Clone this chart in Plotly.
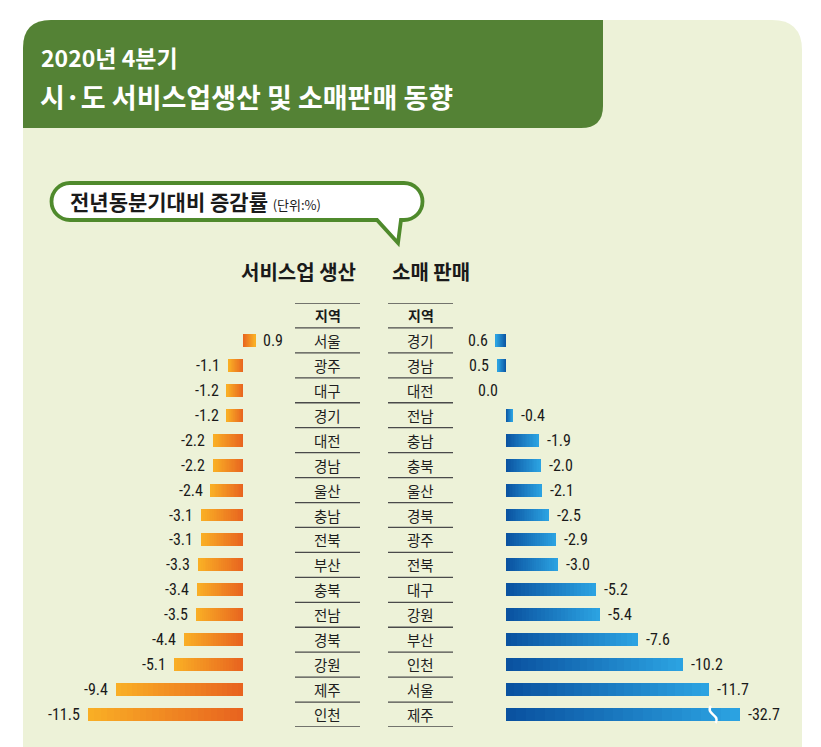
import plotly.graph_objects as go

OFF = 8                      # page body margin of the browser
W, H = 821 - OFF, 747 - OFF  # figure size

# ---------------- data ----------------
left_regions = ["서울", "광주", "대구", "경기", "대전", "경남", "울산", "충남",
                "전북", "부산", "충북", "전남", "경북", "강원", "제주", "인천"]
service = [0.9, -1.1, -1.2, -1.2, -2.2, -2.2, -2.4, -3.1,
           -3.1, -3.3, -3.4, -3.5, -4.4, -5.1, -9.4, -11.5]

right_regions = ["경기", "경남", "대전", "전남", "충남", "충북", "울산", "경북",
                 "광주", "전북", "대구", "강원", "부산", "인천", "서울", "제주"]
retail = [0.6, 0.5, 0.0, -0.4, -1.9, -2.0, -2.1, -2.5,
          -2.9, -3.0, -5.2, -5.4, -7.6, -10.2, -11.7, -32.7]

title_line1 = "2020년 4분기"
title_line2 = "시·도 서비스업생산 및 소매판매 동향"
bubble_text = "전년동분기대비 증감률"
unit_text = "(단위:%)"
header_left = "서비스업 생산"
header_right = "소매 판매"
region_header = "지역"

# ---------------- helpers (page pixels -> paper) ----------------
def px(x):
    return (x - OFF) / W


def py(y):
    return 1 - (y - OFF) / H


def hex2rgb(h):
    h = h.lstrip("#")
    return tuple(int(h[i:i + 2], 16) for i in (0, 2, 4))


def lerp(c1, c2, t):
    a, b = hex2rgb(c1), hex2rgb(c2)
    return "rgb(%d,%d,%d)" % tuple(round(a[i] + (b[i] - a[i]) * t) for i in range(3))


def path(cmds):
    out = []
    for cmd in cmds:
        if isinstance(cmd, str):
            out.append(cmd)
        else:
            out.append("%.5f,%.5f" % (px(cmd[0]), py(cmd[1])))
    return " ".join(out)


KR = "Noto Sans CJK KR"
NUM = "Liberation Sans Narrow, Roboto Condensed, Roboto, sans-serif"

# axis geometry (page pixels)
L_ZERO, L_SCALE = 243, 13.5
L_DOM = (60, 285)
left_range = [(L_DOM[0] - L_ZERO) / L_SCALE, (L_DOM[1] - L_ZERO) / L_SCALE]
R_ZERO, R_SCALE = 506, 17.35
R_DOM = (460, 740)
right_range = [(R_ZERO - R_DOM[0]) / R_SCALE, -(R_DOM[1] - R_ZERO) / R_SCALE]

TOP_PX, BOT_PX = 303, 727
n = len(service)
rows = list(range(n))

# visible bar length (very long bar is drawn with a break)
retail_vis = [max(v, right_range[1]) for v in retail]

fig = go.Figure()

N = 24
L_DARK, L_LIGHT = "#e8641f", "#f9ae25"
R_DARK, R_LIGHT = "#0a52a0", "#2ba2e1"
for k in range(N):
    t = k / (N - 1)
    fig.add_trace(go.Bar(
        x=[v / N for v in service], y=rows, orientation="h", width=0.52,
        marker=dict(color=lerp(L_DARK, L_LIGHT, t), line=dict(width=0)),
        xaxis="x", yaxis="y", hoverinfo="skip", showlegend=False))
    fig.add_trace(go.Bar(
        x=[v / N for v in retail_vis], y=rows, orientation="h", width=0.52,
        marker=dict(color=lerp(R_DARK, R_LIGHT, t), line=dict(width=0)),
        xaxis="x2", yaxis="y", hoverinfo="skip", showlegend=False))

shapes = []
# panel with rounded top-left / top-right corners
shapes.append(dict(
    type="path", xref="paper", yref="paper", layer="below",
    path=path(["M", (23, 760), "L", (23, 48), "Q", (23, 20), (51, 20),
               "L", (772, 20), "Q", (802, 20), (802, 50), "L", (802, 760), "Z"]),
    fillcolor="#edf2d8", line=dict(width=0)))
# title box
shapes.append(dict(
    type="path", xref="paper", yref="paper", layer="below",
    path=path(["M", (23, 128), "L", (23, 48), "Q", (23, 20), (51, 20), "L", (603, 20),
               "L", (603, 106), "Q", (603, 128), (581, 128), "Z"]),
    fillcolor="#548235", line=dict(width=0)))
# speech bubble
shapes.append(dict(
    type="path", xref="paper", yref="paper", layer="below",
    path=path(["M", (70, 183), "L", (404, 183),
               "C", (414.5, 183), (422.5, 191.5), (422.5, 201.5),
               "C", (422.5, 211.5), (414.5, 220), (404, 220),
               "L", (401, 220), "L", (398, 243), "L", (377, 220), "L", (70, 220),
               "C", (59.5, 220), (51.5, 211.5), (51.5, 201.5),
               "C", (51.5, 191.5), (59.5, 183), (70, 183), "Z"]),
    fillcolor="white", line=dict(color="#4f8a2c", width=3.8)))

# table rules
for x0, x1 in ((295, 360), (388, 453)):
    for j in range(n + 2):
        yv = -1.5 + j
        shapes.append(dict(type="line", xref="paper", yref="y",
                           x0=px(x0), x1=px(x1), y0=yv, y1=yv,
                           line=dict(color="#4a4a4a", width=1.3)))

# break mark on the truncated bar
for i, (v, vis) in enumerate(zip(retail, retail_vis)):
    if v < vis:
        xb = vis + 27 / R_SCALE
        shapes.append(dict(
            type="path", xref="x2", yref="y",
            path="M %.3f,%.3f C %.3f,%.3f %.3f,%.3f %.3f,%.3f" % (
                xb + 0.12, i - 0.34, xb + 0.45, i - 0.02, xb - 0.45, i + 0.02, xb - 0.15, i + 0.34),
            line=dict(color="white", width=2.5)))

ann = []
# titles
ann.append(dict(xref="paper", yref="paper", x=px(39), y=py(57), xanchor="left", yanchor="middle",
                text="<b>%s</b>" % title_line1, showarrow=False,
                font=dict(family=KR, size=23, color="white")))
ann.append(dict(xref="paper", yref="paper", x=px(38), y=py(97), xanchor="left", yanchor="middle",
                text="<b>%s</b>" % title_line2, showarrow=False,
                font=dict(family=KR, size=27, color="white")))
ann.append(dict(xref="paper", yref="paper", x=px(68), y=py(201), xanchor="left", yanchor="middle",
                text="<b>%s</b> <span style='font-size:13px'>%s</span>" % (bubble_text, unit_text),
                showarrow=False, font=dict(family=KR, size=21, color="#1a1a1a")))
ann.append(dict(xref="paper", yref="paper", x=px(298), y=py(271), xanchor="center", yanchor="middle",
                text="<b>%s</b>" % header_left, showarrow=False,
                font=dict(family=KR, size=20, color="#1a1a1a")))
ann.append(dict(xref="paper", yref="paper", x=px(431), y=py(271), xanchor="center", yanchor="middle",
                text="<b>%s</b>" % header_right, showarrow=False,
                font=dict(family=KR, size=20, color="#1a1a1a")))
for cx in (327.5, 420.5):
    ann.append(dict(xref="paper", yref="y", x=px(cx), y=-1, xanchor="center", yanchor="middle",
                    text="<b>%s</b>" % region_header, showarrow=False,
                    font=dict(family=KR, size=14, color="#1a1a1a")))
for i in rows:
    ann.append(dict(xref="paper", yref="y", x=px(327.5), y=i, xanchor="center", yanchor="middle",
                    text=left_regions[i], showarrow=False,
                    font=dict(family=KR, size=14.5, color="#1e1e1e")))
    ann.append(dict(xref="paper", yref="y", x=px(420.5), y=i, xanchor="center", yanchor="middle",
                    text=right_regions[i], showarrow=False,
                    font=dict(family=KR, size=14.5, color="#1e1e1e")))
    v = service[i]
    ann.append(dict(xref="x", yref="y", x=v, y=i,
                    xanchor="left" if v > 0 else "right", xshift=6 if v > 0 else -6,
                    yanchor="middle", text="%.1f" % v, showarrow=False,
                    font=dict(family=NUM, size=16, color="#1a1a1a")))
    r, rv = retail[i], retail_vis[i]
    ann.append(dict(xref="x2", yref="y", x=rv, y=i,
                    xanchor="left" if r < 0 else "right", xshift=6 if r < 0 else -6,
                    yanchor="middle", text="%.1f" % r, showarrow=False,
                    font=dict(family=NUM, size=16, color="#1a1a1a")))

fig.update_layout(
    width=W, height=H, margin=dict(l=0, r=0, t=0, b=0),
    paper_bgcolor="white", plot_bgcolor="rgba(0,0,0,0)",
    barmode="relative", bargap=0,
    shapes=shapes, annotations=ann,
    xaxis=dict(domain=[px(L_DOM[0]), px(L_DOM[1])], range=left_range, visible=False,
               anchor="y", fixedrange=True),
    xaxis2=dict(domain=[px(R_DOM[0]), px(R_DOM[1])], range=right_range, visible=False,
                anchor="y", fixedrange=True),
    yaxis=dict(domain=[py(BOT_PX), py(TOP_PX)], range=[n - 0.5, -1.5], visible=False,
               fixedrange=True),
)

fig.write_html("out.html", config={"displayModeBar": False})
